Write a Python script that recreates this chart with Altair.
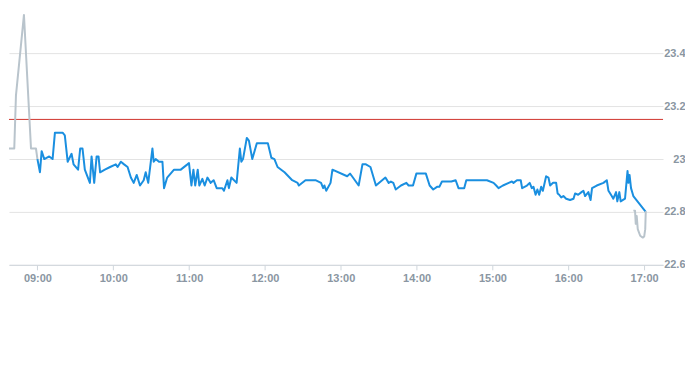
import altair as alt
import pandas as pd

DAY = "2024-03-01T"

pre_times = ["08:30:00", "08:41:40", "08:43:00", "08:49:20", "08:54:55", "08:58:50", "09:00:00"]
pre_prices = [23.04, 23.04, 23.24, 23.545, 23.04, 23.04, 23.00]

reg_times = [
    "09:00:00", "09:02:00", "09:03:20", "09:05:25", "09:09:20", "09:12:00", "09:13:50", "09:19:55",
    "09:21:40", "09:23:55", "09:27:00", "09:28:35", "09:32:10", "09:33:50", "09:35:40", "09:37:30",
    "09:41:30", "09:42:50", "09:44:55", "09:46:50", "09:48:20", "09:49:35", "09:53:20", "09:57:30",
    "10:02:00", "10:03:25", "10:06:00", "10:08:35", "10:11:20", "10:13:55", "10:16:10", "10:18:35",
    "10:21:10", "10:24:05", "10:25:40", "10:27:40", "10:31:00", "10:32:00", "10:33:35", "10:36:10",
    "10:38:55", "10:40:10", "10:42:40", "10:48:05", "10:53:25", "10:58:40", "10:59:55", "11:01:50",
    "11:03:25", "11:04:50", "11:06:50", "11:08:05", "11:10:30", "11:12:20", "11:14:30", "11:17:05",
    "11:19:25", "11:21:50", "11:24:10", "11:26:20", "11:27:35", "11:30:20", "11:31:30", "11:33:25",
    "11:37:35", "11:40:10", "11:41:20", "11:42:40", "11:45:40", "11:47:20", "11:50:00", "11:53:35",
    "12:02:20", "12:05:05", "12:07:30", "12:10:00", "12:15:30", "12:21:35", "12:25:50", "12:26:50",
    "12:32:05", "12:40:00", "12:44:25", "12:46:05", "12:47:05", "12:48:30", "12:51:55", "12:53:25",
    "13:05:05", "13:07:20", "13:08:55", "13:14:10", "13:17:10", "13:19:55", "13:23:30", "13:27:50",
    "13:35:20", "13:37:55", "13:39:40", "13:41:35", "13:43:30", "13:47:40", "13:51:55", "13:53:40",
    "13:57:10", "13:59:50", "14:07:20", "14:10:20", "14:13:10", "14:16:10", "14:18:00", "14:20:05",
    "14:27:30", "14:30:55", "14:33:10", "14:37:40", "14:39:20", "14:55:40", "15:00:55", "15:03:00",
    "15:04:50", "15:08:20", "15:12:55", "15:15:25", "15:16:40", "15:19:25", "15:22:25", "15:23:30",
    "15:27:20", "15:29:30", "15:31:10", "15:32:30", "15:34:10", "15:35:35", "15:37:00", "15:38:35",
    "15:39:55", "15:42:30", "15:44:20", "15:45:40", "15:48:00", "15:50:25", "15:51:35", "15:52:50",
    "15:54:25", "15:56:10", "15:58:20", "16:01:25", "16:04:10", "16:05:25", "16:07:50", "16:10:30",
    "16:12:00", "16:13:20", "16:15:55", "16:17:40", "16:18:50", "16:22:35", "16:27:50", "16:30:30",
    "16:31:50", "16:34:25", "16:35:40", "16:37:50", "16:38:50", "16:40:25", "16:41:30", "16:44:55",
    "16:46:55", "16:47:40", "16:48:30", "16:49:40", "16:51:30", "17:01:20",
]
reg_prices = [
    23.00, 22.95, 23.03, 23.00, 23.01, 23.00, 23.10, 23.10,
    23.09, 22.99, 23.02, 22.98, 22.96, 23.04, 23.04, 22.96,
    22.91, 23.01, 22.91, 23.01, 23.01, 22.95, 22.96, 22.97,
    22.98, 22.97, 22.99, 22.98, 22.97, 22.93, 22.91, 22.94,
    22.90, 22.92, 22.95, 22.91, 23.04, 22.99, 23.00, 22.99,
    22.99, 22.89, 22.93, 22.96, 22.96, 22.98, 22.985, 22.90,
    22.96, 22.90, 22.96, 22.90, 22.925, 22.90, 22.93, 22.91,
    22.92, 22.89, 22.89, 22.89, 22.88, 22.92, 22.89, 22.93,
    22.91, 23.04, 22.99, 23.00, 23.08, 23.07, 23.00, 23.06,
    23.06, 23.005, 23.00, 22.97, 22.95, 22.92, 22.91, 22.90,
    22.92, 22.92, 22.91, 22.89, 22.90, 22.88, 22.91, 22.96,
    22.935, 22.945, 22.935, 22.90, 22.98, 22.98, 22.97, 22.90,
    22.93, 22.91, 22.915, 22.91, 22.885, 22.90, 22.91, 22.90,
    22.90, 22.945, 22.945, 22.90, 22.885, 22.895, 22.895, 22.915,
    22.915, 22.92, 22.89, 22.89, 22.92, 22.92, 22.91, 22.90,
    22.89, 22.90, 22.91, 22.915, 22.91, 22.92, 22.92, 22.89,
    22.90, 22.91, 22.89, 22.895, 22.865, 22.885, 22.865, 22.895,
    22.88, 22.935, 22.93, 22.90, 22.91, 22.91, 22.87, 22.865,
    22.855, 22.86, 22.85, 22.845, 22.85, 22.87, 22.865, 22.875,
    22.88, 22.86, 22.875, 22.845, 22.89, 22.90, 22.91, 22.92,
    22.88, 22.86, 22.85, 22.875, 22.84, 22.875, 22.84, 22.85,
    22.955, 22.91, 22.94, 22.89, 22.86, 22.80,
]

post_times = ["16:51:30", "16:52:50", "16:53:25", "16:54:10", "16:55:00", "16:56:55",
              "16:59:00", "17:00:05", "17:00:55", "17:01:20"]
post_prices = [22.805, 22.805, 22.755, 22.785, 22.735, 22.71, 22.703, 22.707, 22.735, 22.803]

prev_close = 23.15
hour_ticks = [9, 10, 11, 12, 13, 14, 15, 16, 17]
y_ticks = [22.6, 22.8, 23.0, 23.2, 23.4]

BLUE = "#1a8fe0"
GREY = "#b9c4cc"
RED = "#d0342c"
LABEL = "#8a96a2"

rows = []
for sess, ts, ps in [("pre", pre_times, pre_prices),
                     ("regular", reg_times, reg_prices),
                     ("post", post_times, post_prices)]:
    for t, p in zip(ts, ps):
        rows.append({"time": DAY + t, "price": p, "session": sess})
df = pd.DataFrame(rows)

x_domain = [alt.DateTime(year=2024, month=3, date=1, hours=8, minutes=37, seconds=30),
            alt.DateTime(year=2024, month=3, date=1, hours=17, minutes=15)]
x_values = [alt.DateTime(year=2024, month=3, date=1, hours=h) for h in hour_ticks]

x_enc = alt.X("time:T",
              scale=alt.Scale(domain=x_domain),
              axis=alt.Axis(values=x_values, format="%H:%M", grid=False, orient="bottom",
                            domainColor="#cfd6dc", tickColor="#cfd6dc", tickSize=5,
                            labelPadding=3, labelFontWeight="bold", labelFontSize=11,
                            labelColor=LABEL, labelFont="Liberation Sans", title=None))
y_enc = alt.Y("price:Q",
              scale=alt.Scale(domain=[22.6, 23.5706], nice=False, zero=False),
              axis=alt.Axis(values=y_ticks, format=".3~g", orient="right", grid=True,
                            gridColor="#e3e3e3", domain=False, ticks=False,
                            labelAlign="right", labelBaseline="middle", labelPadding=22,
                            labelFontWeight="bold", labelFontSize=11, labelColor=LABEL,
                            labelFont="Liberation Sans", title=None))

lines = alt.Chart(df).mark_line(strokeWidth=2, clip=True, strokeJoin="round").encode(
    x=x_enc,
    y=y_enc,
    color=alt.Color("session:N",
                    scale=alt.Scale(domain=["pre", "regular", "post"], range=[GREY, BLUE, GREY]),
                    legend=None),
    order=alt.Order("time:T"),
)

rule = alt.Chart(pd.DataFrame({"prev_close": [prev_close]})).mark_rule(
    color=RED, strokeWidth=1).encode(y=alt.Y("prev_close:Q"))

chart = alt.layer(rule, lines).properties(
    width=655, height=257, padding=0
).configure_view(stroke=None)

chart.save("out.html", embed_options={"renderer": "svg", "actions": False})
